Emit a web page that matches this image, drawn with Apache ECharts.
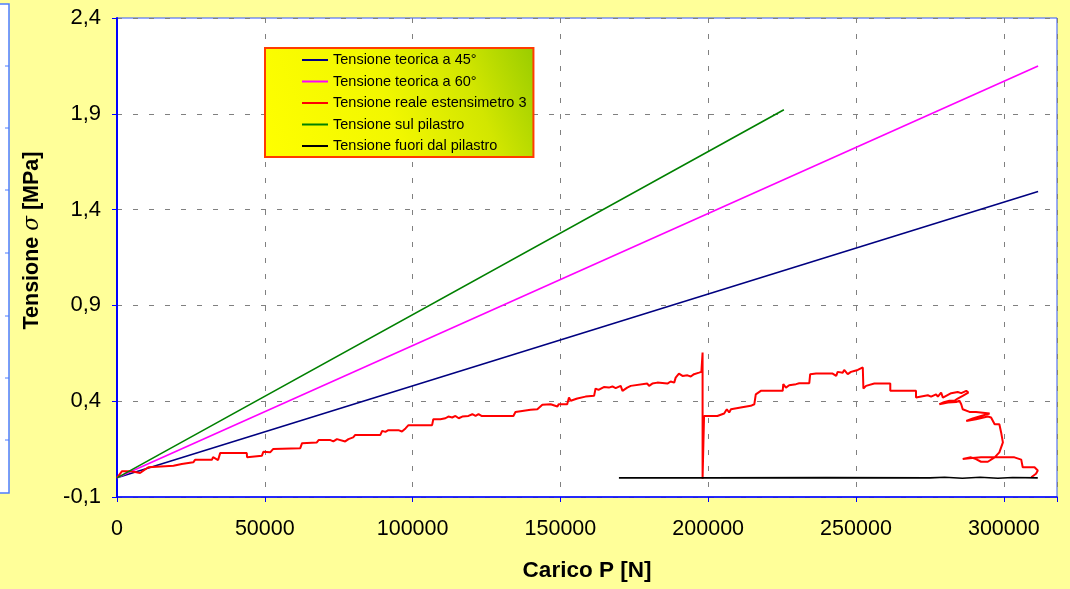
<!DOCTYPE html>
<html>
<head>
<meta charset="utf-8">
<script src="https://cdn.jsdelivr.net/npm/echarts@6/dist/echarts.min.js"></script>
<style>
    html, body { margin: 0; padding: 0; background: #ffff99; }
    #chart { width: 1070px; height: 589px; }
</style>
</head>
<body>
<div id="chart"></div>
<script>
// valori: [carico P (N), tensione (MPa)]
const teorica45 = [[0, 0], [311600, 1.494]];
const teorica60 = [[0, 0], [311600, 2.15]];
const sulPilastro = [[0, 0], [225600, 1.921]];
const fuoriPilastro = [
    [169800, 0], [200000, 0], [240000, 0.001], [275000, 0], [280000, 0.003], [286000, -0.002],
    [292000, 0.003], [298000, -0.002], [303000, 0.002], [311500, 0]
];
const realeEstensimetro3 = [
    [0, 0], [1700, 0.035], [4400, 0.035], [6100, 0.03], [7800, 0.025], [10600, 0.055],
    [19100, 0.063], [21900, 0.072], [25800, 0.081], [26400, 0.094], [32100, 0.094], [32500, 0.108],
    [34200, 0.093], [34900, 0.129], [43900, 0.129], [44000, 0.108], [44400, 0.115], [49000, 0.115],
    [49500, 0.136], [51800, 0.133], [52800, 0.15], [62000, 0.155], [62600, 0.181], [67600, 0.185],
    [68200, 0.197], [72200, 0.197], [73200, 0.19], [74400, 0.202], [77200, 0.19], [78300, 0.202],
    [79900, 0.211], [80600, 0.224], [89100, 0.224], [89700, 0.245], [90800, 0.24], [91800, 0.249],
    [95200, 0.249], [96400, 0.242], [97600, 0.258], [98600, 0.275], [106600, 0.275], [107000, 0.306],
    [109400, 0.306], [111100, 0.311], [112100, 0.32], [113400, 0.315], [114500, 0.323], [115600, 0.311],
    [116800, 0.32], [118900, 0.323], [120200, 0.332], [121300, 0.323], [122300, 0.332], [123300, 0.323],
    [134100, 0.323], [134800, 0.344], [139900, 0.355], [142200, 0.358], [143900, 0.381], [146700, 0.384],
    [149000, 0.372], [149400, 0.384], [152300, 0.384], [152900, 0.419], [153500, 0.402], [155700, 0.414],
    [158500, 0.424], [161400, 0.428], [161900, 0.466], [162900, 0.459], [164700, 0.474], [166400, 0.471],
    [167600, 0.477], [168700, 0.468], [170400, 0.48], [171000, 0.454], [172600, 0.471], [173800, 0.48],
    [179400, 0.492], [180000, 0.48], [181100, 0.492], [182800, 0.497], [186200, 0.492], [187300, 0.503],
    [188500, 0.497], [189000, 0.523], [190100, 0.544], [191300, 0.532], [193000, 0.535], [194100, 0.529],
    [195200, 0.541], [196900, 0.549], [197700, 0.553], [198100, 0.654], [198100, -0.005], [198600, 0.323],
    [203100, 0.323], [203700, 0.332], [205400, 0.336], [206300, 0.358], [207100, 0.341], [207700, 0.358],
    [211000, 0.367], [211600, 0.372], [214400, 0.376], [215600, 0.384], [216100, 0.436], [217800, 0.454],
    [225200, 0.454], [225400, 0.489], [226300, 0.471], [227400, 0.483], [229700, 0.489], [230200, 0.483],
    [230800, 0.494], [234200, 0.494], [234500, 0.541], [236500, 0.544], [242100, 0.544], [242700, 0.553],
    [243300, 0.532], [243800, 0.553], [245500, 0.549], [246000, 0.563], [247200, 0.541], [248300, 0.553],
    [249400, 0.558], [250600, 0.563], [252300, 0.576], [252500, 0.466], [253400, 0.48], [256200, 0.492],
    [261600, 0.492], [261600, 0.454], [270300, 0.454], [270300, 0.419], [274300, 0.431], [275400, 0.424],
    [277100, 0.436], [277700, 0.424], [278800, 0.445], [279400, 0.419], [282200, 0.442], [282700, 0.436],
    [284400, 0.448], [285600, 0.442], [287300, 0.454], [288000, 0.445], [286100, 0.428], [284400, 0.414],
    [283300, 0.402], [281600, 0.402], [279400, 0.393], [278200, 0.384], [281100, 0.393], [283900, 0.396],
    [285000, 0.402], [285600, 0.384], [286100, 0.358], [288400, 0.344], [290600, 0.344], [295200, 0.336],
    [292300, 0.323], [289500, 0.31], [287300, 0.297], [290600, 0.306], [294600, 0.32], [295700, 0.315],
    [296900, 0.28], [298500, 0.28], [299100, 0.237], [299700, 0.185], [298500, 0.133], [296900, 0.107],
    [294600, 0.084], [292300, 0.084], [290600, 0.098], [288900, 0.107], [286100, 0.098], [288400, 0.102],
    [292300, 0.107], [298000, 0.107], [303600, 0.107], [305900, 0.095], [306400, 0.055], [310400, 0.055],
    [311500, 0.038], [310900, 0.021], [309300, 0.003]
];

const seriesNames = [
    "Tensione teorica a 45°",
    "Tensione teorica a 60°",
    "Tensione reale estensimetro 3",
    "Tensione sul pilastro",
    "Tensione fuori dal pilastro",
];
const seriesData = [teorica45, teorica60, realeEstensimetro3, sulPilastro, fuoriPilastro];
const seriesColors = ["#000080", "#ff00ff", "#ff0000", "#008000", "#000000"];

const font = "'Liberation Sans', Arial, sans-serif";
const chart = echarts.init(document.getElementById("chart"));

// pannello del grafico vicino, tagliato sul bordo sinistro
const sideTicks = [66, 128, 190, 253, 316, 378, 440];
const sideGraphic = [{
    type: "rect",
    shape: { x: -6, y: 4, width: 15, height: 489 },
    style: { fill: "#ffffff", stroke: "#4d7dff", lineWidth: 1.5 },
}].concat(sideTicks.map((y) => ({
    type: "line",
    shape: { x1: 5, y1: y, x2: 9, y2: y },
    style: { stroke: "#4d7dff", lineWidth: 1 },
})));

chart.setOption({
    backgroundColor: "#ffff99",
    animation: false,
    textStyle: { fontFamily: font },
    graphic: sideGraphic,
    grid: {
        left: 117, top: 18, right: 13, bottom: 92,
        show: true,
        backgroundColor: "#ffffff",
        borderColor: "#3355ff",
        borderWidth: 1,
    },
    legend: {
        orient: "vertical",
        left: 265,
        top: 48,
        padding: [4, 7, 3, 37],
        itemWidth: 26,
        itemHeight: 2,
        itemGap: 5.5,
        icon: "rect",
        backgroundColor: new echarts.graphic.LinearGradient(0, 1, 1, 0, [
            { offset: 0, color: "#ffff00" },
            { offset: 0.45, color: "#f2f700" },
            { offset: 0.75, color: "#d2e600" },
            { offset: 1, color: "#99cc00" },
        ]),
        borderColor: "#ff3c00",
        borderWidth: 2,
        textStyle: { fontSize: 14.5, lineHeight: 16, color: "#000000", fontFamily: font },
        data: seriesNames,
    },
    xAxis: {
        type: "value",
        min: 0,
        max: 318000,
        interval: 50000,
        name: "Carico P [N]",
        nameLocation: "middle",
        nameGap: 62,
        nameTextStyle: { fontSize: 22.5, fontWeight: "bold", color: "#000000" },
        axisLine: { show: true, onZero: false, lineStyle: { color: "#0000ff", width: 1.5 } },
        axisTick: { show: true, length: 5, lineStyle: { color: "#0000ff" } },
        axisLabel: {
            fontSize: 21.5,
            color: "#000000",
            margin: 21,
            formatter: (v) => (v % 50000 === 0 ? String(v) : ""),
        },
        splitLine: { show: true, lineStyle: { color: "#808080", type: [5, 11], width: 1 } },
    },
    yAxis: {
        type: "value",
        min: -0.1,
        max: 2.4,
        interval: 0.5,
        name: "Tensione {s|σ} [MPa]",
        nameLocation: "middle",
        nameGap: 74,
        nameTextStyle: {
            fontSize: 21.5,
            fontWeight: "bold",
            color: "#000000",
            padding: [0, 0, 0, 34],
            rich: { s: { fontSize: 21.5, fontStyle: "italic", fontWeight: "normal", fontFamily: "'DejaVu Serif', serif" } },
        },
        axisLine: { show: true, onZero: false, lineStyle: { color: "#0000ff", width: 2 } },
        axisTick: { show: true, length: 5, lineStyle: { color: "#0000ff" } },
        axisLabel: {
            fontSize: 22,
            color: "#000000",
            margin: 16,
            formatter: (v) => v.toFixed(1).replace(".", ","),
        },
        splitLine: { show: true, lineStyle: { color: "#808080", type: [5, 11], width: 1 } },
    },
    series: seriesNames.map((name, i) => ({
        name,
        type: "line",
        data: seriesData[i],
        showSymbol: false,
        color: seriesColors[i],
        lineStyle: { width: i === 2 ? 2 : 1.6, color: seriesColors[i] },
        z: i === 4 ? 3 : 2,
    })),
});

window.addEventListener("resize", () => chart.resize());
</script>
</body>
</html>
